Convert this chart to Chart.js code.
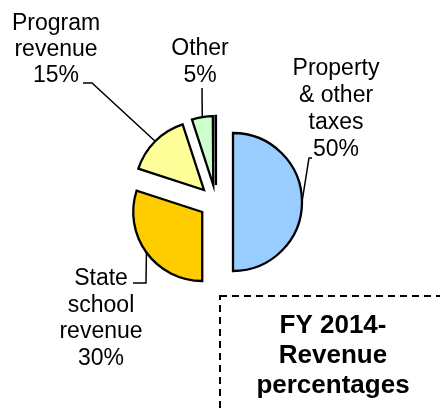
<!DOCTYPE html>
<html>
<head>
<meta charset="utf-8">
<script src="https://cdn.jsdelivr.net/npm/chart.js@4.4.1/dist/chart.umd.min.js"></script>
<style>
    html, body { margin: 0; padding: 0; background: #fff; }
    #wrap { width: 440px; height: 412px; position: relative; }
</style>
</head>
<body>
<div id="wrap"><canvas id="revenue-chart"></canvas></div>
<script>
// Slices, clockwise from 12 o'clock
const categories = ['Property & other taxes', 'State school revenue', 'Program revenue', 'Other', ''];
const values = [50, 30, 15, 4.9, 0.1];
const sliceColors = ['#99CCFF', '#FFCC00', '#FFFF99', '#CCFFCC', '#000000'];
const labelLines = [['Property', '& other', 'taxes'], ['State', 'school', 'revenue'], ['Program', 'revenue'], ['Other'], []];
const titleLines = ['FY 2014-', 'Revenue', 'percentages'];

const EXPLODE = 17;
const LABEL_FONT = '23px "Liberation Sans", Arial, sans-serif';
const TITLE_FONT = 'bold 26px "Liberation Sans", Arial, sans-serif';

// label block: centre x, first baseline, line height, leader start points
const labelLayout = [
    { x: 336, y: 75, lh: 27, leader: [[312, 158], [309, 158]] },
    { x: 101, y: 285, lh: 26.7, leader: [[133, 283], [146, 283]] },
    { x: 56, y: 30, lh: 26, leader: [[83, 83], [92, 83]] },
    { x: 200, y: 55, lh: 27, leader: [[202, 88]] },
    null
];

// outer arc midpoint of an exploded slice
function sliceTip(arc) {
    const mid = (arc.startAngle + arc.endAngle) / 2;
    const r = arc.outerRadius + EXPLODE;
    return [arc.x + Math.cos(mid) * r, arc.y + Math.sin(mid) * r];
}

// draw each slice pulled out from the centre
const explodePlugin = {
    id: 'explode',
    beforeDatasetDraw(chart, args) {
        const ctx = chart.ctx;
        args.meta.data.forEach(arc => {
            const mid = (arc.startAngle + arc.endAngle) / 2;
            ctx.save();
            ctx.translate(Math.cos(mid) * EXPLODE, Math.sin(mid) * EXPLODE);
            arc.draw(ctx);
            ctx.restore();
        });
        return false;
    }
};

// data labels with leader lines + dashed title box
const labelPlugin = {
    id: 'sliceLabels',
    afterDraw(chart) {
        const ctx = chart.ctx;
        const arcs = chart.getDatasetMeta(0).data;
        ctx.save();
        ctx.fillStyle = '#000';
        ctx.strokeStyle = '#000';
        ctx.lineWidth = 1.5;
        ctx.textAlign = 'center';
        ctx.textBaseline = 'alphabetic';
        ctx.font = LABEL_FONT;

        arcs.forEach((arc, i) => {
            const lay = labelLayout[i];
            if (!lay) return;
            const lines = labelLines[i].concat([Math.round(values[i]) + '%']);
            lines.forEach((t, k) => ctx.fillText(t, lay.x, lay.y + k * lay.lh));

            const tip = sliceTip(arc);
            ctx.beginPath();
            ctx.moveTo(lay.leader[0][0], lay.leader[0][1]);
            lay.leader.slice(1).forEach(p => ctx.lineTo(p[0], p[1]));
            ctx.lineTo(tip[0], tip[1]);
            ctx.stroke();
        });

        // title box
        ctx.setLineDash([7, 5]);
        ctx.lineWidth = 2;
        ctx.strokeRect(220, 296, 240, 140);
        ctx.setLineDash([]);
        ctx.font = TITLE_FONT;
        titleLines.forEach((t, k) => ctx.fillText(t, 333, 333 + k * 30));
        ctx.restore();
    }
};

const ctx = document.getElementById('revenue-chart').getContext('2d');
const revenueChart = new Chart(ctx, {
    type: 'pie',
    data: {
        labels: categories,
        datasets: [{
            data: values,
            backgroundColor: sliceColors,
            borderColor: '#000',
            borderWidth: 2.3,
            borderJoinStyle: 'miter',
            offset: 0,
            hoverOffset: 0,
            radius: 69
        }]
    },
    options: {
        responsive: true,
        maintainAspectRatio: false,
        animation: false,
        layout: { padding: { left: 0, right: 8, top: 0, bottom: 8 } },
        plugins: {
            legend: { display: false },
            tooltip: { enabled: false },
            title: { display: false }
        },
        events: []
    },
    plugins: [explodePlugin, labelPlugin]
});
</script>
</body>
</html>
